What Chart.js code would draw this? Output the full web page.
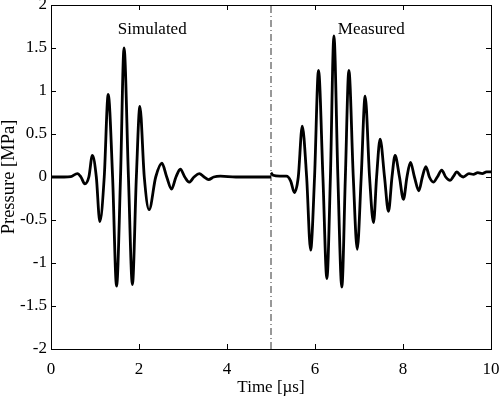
<!DOCTYPE html>
<html>
<head>
<meta charset="utf-8">
<script src="https://cdn.jsdelivr.net/npm/chart.js@4"></script>
<style>
  html, body { margin: 0; padding: 0; background: #fff; }
  #wrap { width: 499px; height: 396px; }
</style>
</head>
<body>
<div id="wrap"><canvas id="c" width="499" height="396"></canvas></div>
<script>
/* ===== Simulated vs measured pressure pulse ===== */

// Simulated pulse: time [us] and pressure [MPa]
const simT = [0, 0.3, 0.45, 0.6, 0.68, 0.77, 0.86, 0.94, 1.03, 1.11, 1.21, 1.30, 1.40, 1.49, 1.58, 1.66,
  1.76, 1.85, 1.94, 2.02, 2.12, 2.23, 2.38, 2.52, 2.63, 2.74, 2.84, 2.94, 3.04, 3.14, 3.25, 3.37,
  3.48, 3.58, 3.70, 3.85, 4.2, 4.6, 5.0];
const simP = [0, 0, 0.005, 0.04, 0, -0.08, 0, 0.25, 0, -0.52, 0, 0.96, 0, -1.27, 0, 1.50,
  0, -1.25, 0, 0.82, 0, -0.38, 0, 0.16, 0, -0.14, 0, 0.09, 0, -0.06, 0, 0.04,
  0, -0.03, 0, 0.01, 0, 0, 0];

// Measured pulse
const measT = [5.0, 5.05, 5.2, 5.35, 5.45, 5.53, 5.62, 5.71, 5.81, 5.90, 5.99, 6.08, 6.18, 6.27, 6.35, 6.43,
  6.52, 6.61, 6.69, 6.77, 6.87, 6.96, 7.05, 7.14, 7.24, 7.33, 7.40, 7.48, 7.58, 7.67, 7.75, 7.82,
  7.92, 8.01, 8.09, 8.17, 8.26, 8.36, 8.44, 8.52, 8.60, 8.69, 8.78, 8.88, 8.97, 9.07, 9.15, 9.22,
  9.30, 9.37, 9.5, 9.6, 9.7, 9.8, 9.9, 10];
const measP = [0.05, 0.02, 0.01, 0.01, -0.05, -0.18, 0, 0.59, 0, -0.85, 0, 1.24, 0, -1.18, 0, 1.64,
  0, -1.28, 0, 1.24, 0, -0.84, 0, 0.94, 0, -0.53, 0, 0.44, 0, -0.40, 0, 0.25,
  0, -0.26, 0, 0.17, 0, -0.16, 0, 0.12, 0, -0.06, 0, 0.08, 0, -0.04, 0.01, 0.06,
  0.02, 0.0, 0.04, 0.03, 0.05, 0.04, 0.06, 0.06];

// Separator between the two panels
const sepT = [5, 5];
const sepP = [-2, 2];

// Panel captions
const captions = [
  { text: 'Simulated', t: 2.3, p: 1.71 },
  { text: 'Measured',  t: 7.28, p: 1.71 }
];

const xTicks = [0, 2, 4, 6, 8, 10];
const yTicks = [-2, -1.5, -1, -0.5, 0, 0.5, 1, 1.5, 2];

const FONT = 'Liberation Serif, Times New Roman, serif';
const FS = 17;
const pts = (xs, ys) => xs.map((x, i) => ({ x: x, y: ys[i] }));

// MATLAB-style box with inward ticks on all sides, plus captions
const boxPlugin = {
  id: 'box',
  afterDatasetsDraw(chart) {
    const { ctx, chartArea: a, scales: { x, y } } = chart;
    ctx.save();
    ctx.strokeStyle = '#000';
    ctx.lineWidth = 1;
    ctx.strokeRect(a.left + 0.5, a.top + 0.5, a.right - a.left, a.bottom - a.top);
    const tl = 5;
    ctx.beginPath();
    xTicks.forEach(v => {
      const px = Math.round(x.getPixelForValue(v)) + 0.5;
      ctx.moveTo(px, a.bottom); ctx.lineTo(px, a.bottom - tl);
      ctx.moveTo(px, a.top); ctx.lineTo(px, a.top + tl);
    });
    yTicks.forEach(v => {
      const py = Math.round(y.getPixelForValue(v)) + 0.5;
      ctx.moveTo(a.left, py); ctx.lineTo(a.left + tl, py);
      ctx.moveTo(a.right, py); ctx.lineTo(a.right - tl, py);
    });
    ctx.stroke();

    ctx.fillStyle = '#000';
    ctx.font = FS + 'px ' + FONT;
    ctx.textAlign = 'center';
    ctx.textBaseline = 'middle';
    captions.forEach(c => ctx.fillText(c.text, x.getPixelForValue(c.t), y.getPixelForValue(c.p)));
    ctx.restore();
  }
};

const lineStyle = {
  borderColor: '#000',
  borderWidth: 2.8,
  pointRadius: 0,
  fill: false,
  cubicInterpolationMode: 'monotone'
};

new Chart(document.getElementById('c'), {
  type: 'line',
  data: {
    datasets: [
      { label: 'Simulated', data: pts(simT, simP), ...lineStyle },
      { label: 'Measured',  data: pts(measT, measP), ...lineStyle },
      {
        label: 'Separator', data: pts(sepT, sepP),
        borderColor: '#333', borderWidth: 1, borderDash: [7, 3, 1, 3],
        pointRadius: 0, tension: 0
      }
    ]
  },
  options: {
    responsive: false,
    animation: false,
    layout: { padding: { top: 5, right: 8, left: 0, bottom: 0 } },
    plugins: { legend: { display: false }, tooltip: { enabled: false } },
    scales: {
      x: {
        type: 'linear', min: 0, max: 10,
        afterFit: s => { s.height = 47; s.paddingLeft = 0; s.paddingRight = 0; },
        afterBuildTicks: s => { s.ticks = xTicks.map(v => ({ value: v })); },
        grid: { display: false, drawTicks: false },
        border: { display: false },
        ticks: { color: '#000', padding: 10, font: { family: FONT, size: FS }, maxRotation: 0,
                 callback: v => String(v) },
        title: { display: true, text: 'Time [µs]', color: '#000', font: { family: FONT, size: FS }, padding: { top: 0, bottom: -2 } }
      },
      y: {
        type: 'linear', min: -2, max: 2,
        afterFit: s => { s.width = 51; s.paddingTop = 0; s.paddingBottom = 0; },
        afterBuildTicks: s => { s.ticks = yTicks.map(v => ({ value: v })); },
        grid: { display: false, drawTicks: false },
        border: { display: false },
        ticks: { color: '#000', padding: 4, font: { family: FONT, size: FS }, callback: v => String(v) },
        title: { display: true, text: 'Pressure [MPa]', color: '#000', font: { family: FONT, size: 18.5 }, padding: { top: -2, bottom: 0 } }
      }
    }
  },
  plugins: [boxPlugin]
});
</script>
</body>
</html>
